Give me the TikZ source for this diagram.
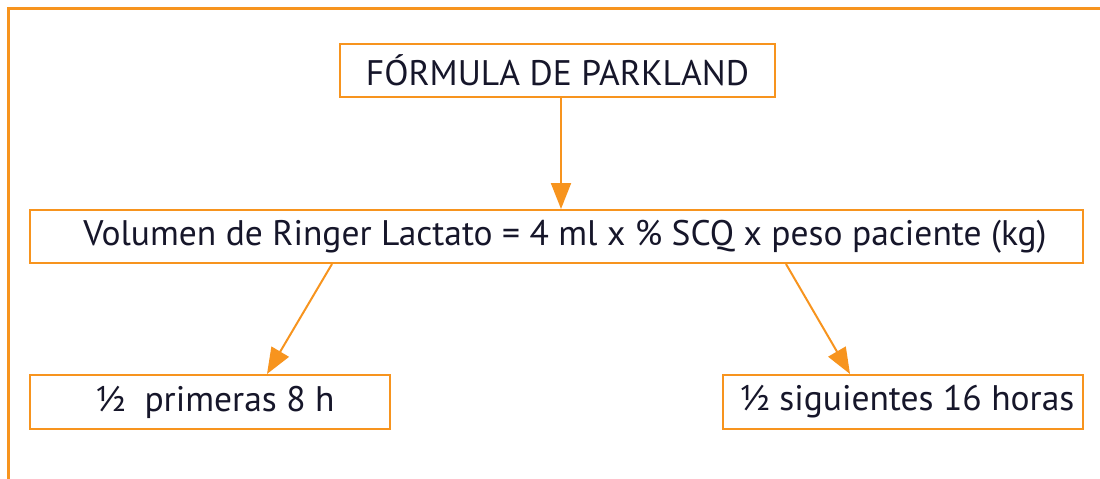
\documentclass[tikz,border=0pt]{standalone}
\usepackage{fontspec}
\setmainfont{PT Sans}
\usetikzlibrary{arrows.meta,calc}
\definecolor{orng}{HTML}{F7941E}
\definecolor{ink}{HTML}{16162A}
\begin{document}
\begin{tikzpicture}[x=1pt,y=-1pt,
  box/.style={draw=orng,line width=2pt,fill=white,inner sep=0pt,text=ink,font=\fontsize{35.5}{40}\selectfont},
  arr/.style={draw=orng,line width=2pt,-{Triangle[length=26pt,width=20pt]}}]
\useasboundingbox (0,0) rectangle (1100,479);
\draw[orng,line width=3pt] (1100,8.5) -- (8.5,8.5) -- (8.5,479);
\node[box,minimum width=435pt,minimum height=53pt] (top) at (557.5,70.5) {FÓRMULA DE PARKLAND};
\node[box,minimum width=1053pt,minimum height=53pt] (mid) at (556.5,236.5) {\hspace*{17pt}Volumen de Ringer Lactato = 4 ml x \% SCQ x peso paciente (kg)};
\node[box,minimum width=360pt,minimum height=54pt] (bl) at (210,402) {\hspace*{10pt}½\ \ primeras 8 h};
\node[box,minimum width=360pt,minimum height=54pt] (br) at (903,402) {\hspace*{8pt}½ siguientes 16 horas};
\draw[arr] ([xshift=3.5pt]top.south) -- ([xshift=3.5pt]top.south |- mid.north);
\draw[arr] ([xshift=-224.5pt]mid.south) -- ([xshift=57pt]bl.north);
\draw[arr] ([xshift=229.5pt]mid.south) -- ([xshift=-53pt]br.north);
\end{tikzpicture}
\end{document}
